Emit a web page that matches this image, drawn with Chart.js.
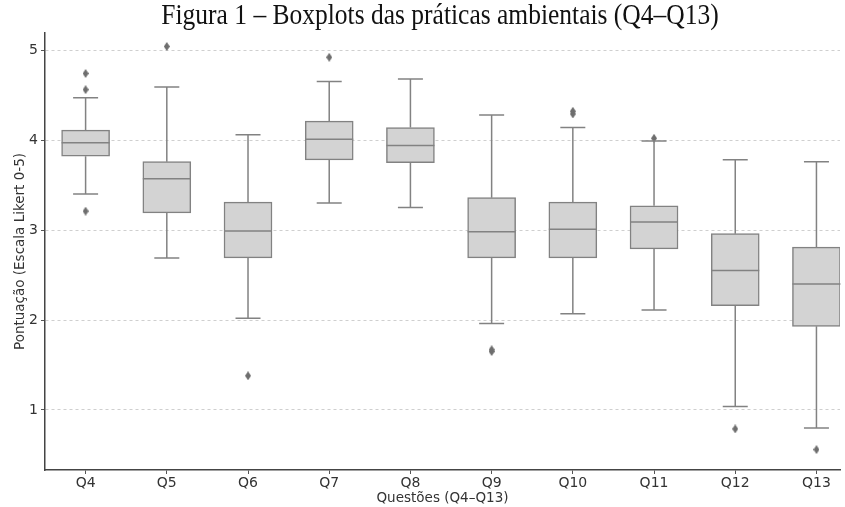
<!DOCTYPE html>
<html lang="pt">
<head>
<meta charset="UTF-8">
<title>Boxplots das práticas ambientais</title>
<script src="https://cdn.jsdelivr.net/npm/chart.js"></script>
<style>
  html, body { margin: 0; padding: 0; background: #fff; overflow: hidden; }
  #wrap { position: relative; width: 845px; height: 507px; }
  #title {
    position: absolute; top: -3px; left: 440px;
    white-space: nowrap;
    font-family: "Liberation Serif", "Times New Roman", serif;
    font-size: 30px; line-height: 34px; color: #111;
    transform: translateX(-50%) scaleX(0.85);
  }
  canvas { position: absolute; left: 0; top: 0; }
</style>
</head>
<body>
<div id="wrap">
  <canvas id="box" width="845" height="507"></canvas>
  <div id="title">Figura 1 – Boxplots das práticas ambientais (Q4–Q13)</div>
</div>

<script>
  const categories = ['Q4', 'Q5', 'Q6', 'Q7', 'Q8', 'Q9', 'Q10', 'Q11', 'Q12', 'Q13'];
  const whiskerLow  = [3.40, 2.69, 2.02, 3.30, 3.25, 1.96, 2.07, 2.11, 1.04, 0.80];
  const q1          = [3.82, 3.19, 2.69, 3.78, 3.75, 2.69, 2.69, 2.79, 2.16, 1.93];
  const median      = [3.97, 3.57, 2.99, 4.01, 3.94, 2.98, 3.01, 3.09, 2.55, 2.40];
  const q3          = [4.11, 3.76, 3.31, 4.21, 4.14, 3.36, 3.31, 3.27, 2.96, 2.81];
  const whiskerHigh = [4.47, 4.59, 4.06, 4.65, 4.68, 4.28, 4.14, 3.99, 3.78, 3.76];
  // outliers: question index + value
  const outlierIdx = [0, 0, 0, 1, 2, 3, 5, 5, 6, 6, 7, 8, 9];
  const outlierVal = [4.74, 4.56, 3.21, 5.04, 1.38, 4.92, 1.67, 1.65, 4.32, 4.29, 4.02, 0.79, 0.56];
  const yTicks = [1, 2, 3, 4, 5];

  const LINE = '#828282';
  const TEXT = '#333';

  // thin diamond marker like seaborn's 'd'
  const diamond = document.createElement('canvas');
  diamond.width = 6; diamond.height = 9;
  const dctx = diamond.getContext('2d');
  dctx.fillStyle = '#6e6e6e';
  dctx.beginPath();
  dctx.moveTo(3, 0); dctx.lineTo(6, 4.5); dctx.lineTo(3, 9); dctx.lineTo(0, 4.5);
  dctx.closePath();
  dctx.fill();

  // whiskers, caps and medians
  const boxWhiskers = {
    id: 'boxWhiskers',
    afterDatasetsDraw(chart) {
      const { ctx, scales: { x, y } } = chart;
      ctx.save();
      ctx.strokeStyle = LINE;
      ctx.lineWidth = 1.5;
      categories.forEach((c, i) => {
        const cx = x.getPixelForValue(i);
        const hi = y.getPixelForValue(whiskerHigh[i]);
        const lo = y.getPixelForValue(whiskerLow[i]);
        const m = y.getPixelForValue(median[i]);
        ctx.beginPath();
        ctx.moveTo(cx, y.getPixelForValue(q3[i])); ctx.lineTo(cx, hi);
        ctx.moveTo(cx, y.getPixelForValue(q1[i])); ctx.lineTo(cx, lo);
        ctx.moveTo(cx - 12.5, hi); ctx.lineTo(cx + 12.5, hi);
        ctx.moveTo(cx - 12.5, lo); ctx.lineTo(cx + 12.5, lo);
        ctx.moveTo(cx - 24, m); ctx.lineTo(cx + 24, m);
        ctx.stroke();
      });
      ctx.restore();
    }
  };

  new Chart(document.getElementById('box'), {
    data: {
      datasets: [
        {
          type: 'bar',
          data: categories.map((c, i) => ({ x: i, y: [q1[i], q3[i]] })),
          backgroundColor: '#d3d3d3',
          borderColor: LINE,
          borderWidth: 1.5,
          borderSkipped: false,
          barThickness: 48
        },
        {
          type: 'scatter',
          data: outlierIdx.map((ix, k) => ({ x: ix, y: outlierVal[k] })),
          pointStyle: diamond
        }
      ]
    },
    options: {
      responsive: false,
      animation: false,
      layout: { padding: { top: 33, right: 0, left: 0, bottom: 0 } },
      plugins: {
        legend: { display: false },
        tooltip: { enabled: false }
      },
      scales: {
        x: {
          type: 'linear',
          min: -0.5,
          max: 9.29,
          offset: false,
          afterBuildTicks: s => { s.ticks = categories.map((c, i) => ({ value: i })); },
          afterFit: s => { s.height = 37; },
          ticks: {
            callback: v => categories[v],
            autoSkip: false,
            maxRotation: 0,
            padding: 1,
            color: TEXT,
            font: { family: 'DejaVu Sans', size: 14 }
          },
          grid: { drawOnChartArea: false, offset: false, tickLength: 4, tickColor: '#555', tickWidth: 1 },
          border: { color: '#444', width: 1.5 },
          title: {
            display: true,
            text: 'Questões (Q4–Q13)',
            color: TEXT,
            font: { family: 'DejaVu Sans', size: 13.5 },
            padding: { top: 0, bottom: 0 }
          }
        },
        y: {
          min: 0.333,
          max: 5.19,
          afterBuildTicks: s => { s.ticks = yTicks.map(v => ({ value: v })); },
          afterFit: s => { s.width = 45; },
          ticks: {
            padding: 3,
            color: TEXT,
            font: { family: 'DejaVu Sans', size: 14 }
          },
          grid: { color: '#cfcfcf', lineWidth: 1, tickLength: 4, tickColor: '#555', tickWidth: 1 },
          border: { color: '#444', width: 1.5, dash: [3, 3] },
          title: {
            display: true,
            text: 'Pontuação (Escala Likert 0-5)',
            color: TEXT,
            font: { family: 'DejaVu Sans', size: 13.5 },
            padding: { top: 12, bottom: 0 }
          }
        }
      }
    },
    plugins: [boxWhiskers]
  });
</script>
</body>
</html>
